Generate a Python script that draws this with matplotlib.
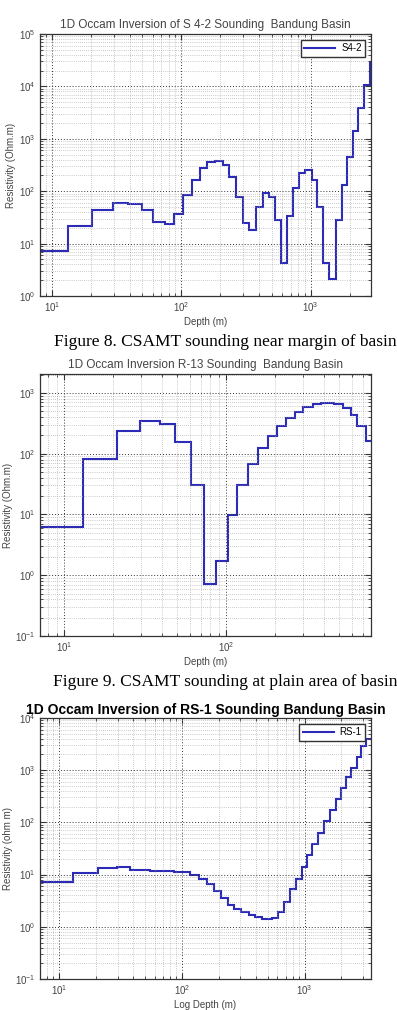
import matplotlib
matplotlib.use("Agg")
import matplotlib.pyplot as plt
from matplotlib.ticker import LogLocator, NullFormatter

plt.rcParams['font.family'] = ['Liberation Sans', 'DejaVu Sans']
plt.rcParams['mathtext.default'] = 'regular'

# ---------------- data ----------------
# Panel 1: S4-2 (layer boundaries in m, resistivity in ohm.m)
s42_edges = [8.1, 13.4, 20.4, 29.6, 38.6, 49.5, 60.2, 75, 88, 103, 120, 140, 159, 182,
             209, 235, 265, 298, 336, 378, 426, 479, 530, 586, 659, 734, 817, 904,
             1018, 1125, 1238, 1393, 1560, 1735, 1917, 2110, 2335, 2596, 2871, 2950]
s42_res = [7.2, 21.5, 43.5, 60, 58, 43.5, 26.4, 23.9, 36, 83, 165, 275, 357, 369,
           319, 185, 77, 24.5, 18.3, 51, 92, 79, 28.5, 4.2, 33, 116, 221, 256,
           165, 51, 4.2, 2.1, 27.6, 134, 459, 1396, 3890, 10700, 28900]

# Panel 2: R-13
r13_edges = [7.1, 13.1, 21.1, 29.4, 39.0, 48.7, 61.1, 72.8, 86.2, 103.5, 116.5, 136,
             158.5, 181, 205, 235, 268, 297, 342, 385, 465, 529, 589, 647, 729, 790]
r13_res = [6.3, 80.5, 237, 343, 305, 154, 30.7, 0.72, 1.71, 9.9, 31, 68,
           124, 193, 290, 394, 489, 591, 647, 689, 662, 569, 431, 290, 162]

# Panel 3: RS-1
rs1_edges = [7.0, 13.1, 20.9, 29.9, 38, 55.4, 85.7, 117, 137, 161, 184, 210, 236, 268,
             304, 351, 398, 451, 545, 605, 677, 759, 845, 946, 1038, 1156, 1294, 1438,
             1610, 1792, 1968, 2190, 2406, 2656, 2901, 3180, 3500]
rs1_res = [7.1, 10.8, 13.2, 13.8, 12.4, 11.9, 11.4, 10, 8.4, 6.5, 4.8, 3.55, 2.66,
           2.23, 1.93, 1.72, 1.53, 1.38, 1.48, 1.93, 3.0, 5.4, 8.3, 14.2, 23.7, 38,
           63.5, 106, 171, 281, 454, 725, 1122, 1760, 2890, 4030]

titles = ["1D Occam Inversion of S 4-2 Sounding  Bandung Basin",
          "1D Occam Inversion R-13 Sounding  Bandung Basin",
          "1D Occam Inversion of RS-1 Sounding Bandung Basin"]
xlabels = ["Depth (m)", "Depth (m)", "Log Depth (m)"]
ylabels = ["Resistivity (Ohm.m)", "Resistivity (Ohm.m)", "Resistivity (ohm m)"]
legends = ["S4-2", None, "RS-1"]
captions = ["Figure 8. CSAMT sounding near margin of basin",
            "Figure 9. CSAMT sounding at plain area of basin"]

# ---------------- layout ----------------
W, H = 397, 1010
fig = plt.figure(figsize=(W / 100, H / 100), dpi=100)
fig.patch.set_facecolor('white')


def rect(l, t, r, b):
    return [l / W, 1 - b / H, (r - l) / W, (b - t) / H]


LINE = '#2b2bb8'
GRAY = '#444444'

panels = [
    dict(rect=rect(40, 34, 371, 296), edges=s42_edges, res=s42_res,
         xlim=(8.1, 2924), ylim=(1, 1e5)),
    dict(rect=rect(40, 374, 371, 636), edges=r13_edges, res=r13_res,
         xlim=(7.1, 785), ylim=(0.1, 2050)),
    dict(rect=rect(40, 718, 371, 979), edges=rs1_edges, res=rs1_res,
         xlim=(7.0, 3480), ylim=(0.1, 1e4)),
]

for i, p in enumerate(panels):
    ax = fig.add_axes(p['rect'])
    ax.set_xscale('log')
    ax.set_yscale('log')
    ax.stairs(p['res'], p['edges'], baseline=None, color=LINE, lw=1.5,
              label=legends[i] if legends[i] else None)
    ax.set_xlim(*p['xlim'])
    ax.set_ylim(*p['ylim'])
    for axis in (ax.xaxis, ax.yaxis):
        axis.set_major_locator(LogLocator(base=10, numticks=20))
        axis.set_minor_locator(LogLocator(base=10, subs=range(2, 10), numticks=20))
        axis.set_minor_formatter(NullFormatter())
    ax.grid(which='major', linestyle=(0, (1, 2)), color='#333333', lw=0.7)
    ax.grid(which='minor', linestyle=(0, (1, 2)), color='#9a9a9a', lw=0.5)
    ax.tick_params(which='both', direction='in', top=True, right=True,
                   colors='#333333', labelcolor=GRAY, labelsize=7, pad=3)
    ax.tick_params(which='major', length=4)
    ax.tick_params(which='minor', length=2)
    for s in ax.spines.values():
        s.set_color('#333333')
        s.set_linewidth(0.9)
    ax.set_xlabel(xlabels[i], fontsize=7, color=GRAY, labelpad=2)
    ax.set_ylabel(ylabels[i], fontsize=7, color=GRAY, labelpad=2)
    if i < 2:
        ax.set_title(titles[i], fontsize=8.5, color=GRAY, pad=4)
    else:
        ax.set_title(titles[i], fontsize=10, color='black', fontweight='bold', pad=3)
    if legends[i]:
        ax.legend(loc='upper right', fontsize=7, frameon=True, fancybox=False,
                  edgecolor='#333333', framealpha=1, borderaxespad=0.6,
                  handlelength=3.2, borderpad=0.35, handletextpad=0.6)

fig.text(54 / W, 1 - 341.7 / H, captions[0], family='Liberation Serif',
         fontsize=12.5, va='center', ha='left', color='black')
fig.text(53 / W, 1 - 681.7 / H, captions[1], family='Liberation Serif',
         fontsize=12.5, va='center', ha='left', color='black')

fig.savefig('out.png', dpi=100, facecolor='white')
